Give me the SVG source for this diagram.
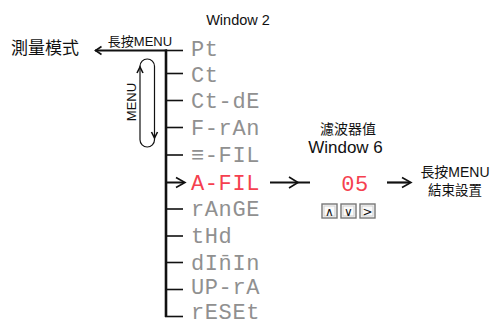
<svg xmlns="http://www.w3.org/2000/svg" width="491" height="325" viewBox="0 0 491 325">
<style>
.lbl{font-family:"Liberation Sans","Noto Sans CJK TC",sans-serif;fill:#111}
.seg{font-family:"Liberation Mono",monospace;font-size:22px;fill:#909090;letter-spacing:0.6px}
.red{fill:#f5404f}
.ln{stroke:#111;fill:none;stroke-linecap:butt}
.tick{stroke:#111;stroke-width:1.6;fill:none}
.hd{stroke:#111;fill:none;stroke-width:1.6;stroke-linejoin:miter}
.btn{fill:#fafafa;stroke:#777;stroke-width:1.4}
.btni{fill:none;stroke:#cfcfcf;stroke-width:1}
.sym{font-family:"DejaVu Sans",sans-serif;font-size:12px;fill:#111;text-anchor:middle}
</style>
<rect width="491" height="325" fill="#fff"/>

<g id="connectors">
  <line class="ln" x1="95" y1="50.5" x2="167" y2="50.5" stroke-width="2.2"/>
  <path class="hd" d="M101.5,46.5 L95.5,50.5 L101.5,54.5"/>
  <line class="ln" x1="166" y1="49.5" x2="166" y2="317" stroke-width="2.6"/>
  <line class="tick" x1="166" y1="50.5" x2="183" y2="50.5"/>
  <line class="tick" x1="166" y1="73.5" x2="183" y2="73.5"/>
  <line class="tick" x1="166" y1="100.5" x2="183" y2="100.5"/>
  <line class="tick" x1="166" y1="127.5" x2="183" y2="127.5"/>
  <line class="tick" x1="166" y1="155" x2="183" y2="155"/>
  <line class="tick" x1="166" y1="209" x2="183" y2="209"/>
  <line class="tick" x1="166" y1="236" x2="183" y2="236"/>
  <line class="tick" x1="166" y1="262.5" x2="183" y2="262.5"/>
  <line class="tick" x1="166" y1="289.5" x2="183" y2="289.5"/>
  <line class="tick" x1="165" y1="316.5" x2="183" y2="316.5"/>
  <line class="ln" x1="166" y1="182.5" x2="184" y2="182.5" stroke-width="2"/>
  <path class="hd" d="M176,177.5 L185,182.5 L176,187.5"/>
  <line class="ln" x1="270" y1="182.5" x2="310" y2="182.5" stroke-width="2.2"/>
  <path class="hd" d="M289,177 L298,182.5 L289,188" stroke-width="1.8"/>
  <line class="ln" x1="387" y1="182.5" x2="410" y2="182.5" stroke-width="2.2"/>
  <path class="hd" d="M402,177.5 L411,182.5 L402,187.5" stroke-width="1.8"/>
  <rect x="140" y="59" width="14.5" height="88" rx="7.2" ry="7.2" class="ln" stroke-width="1.2"/>
  <path class="hd" d="M137,73 L140,67 L143,73" stroke-width="1.2"/>
  <path class="hd" d="M151.5,132 L154.5,138 L157.5,132" stroke-width="1.2"/>
</g>

<g id="title-window2"><text class="lbl" x="238" y="25" font-size="14.5" text-anchor="middle">Window 2</text></g>
<g id="measure-mode"><text class="lbl" x="45" y="54" font-size="17" text-anchor="middle">測量模式</text></g>
<g id="long-press-top"><text class="lbl" x="140" y="46" font-size="13" text-anchor="middle">長按MENU</text></g>
<g id="menu-loop"><text class="lbl" transform="translate(136,102) rotate(-90)" font-size="13" text-anchor="middle">MENU</text></g>

<g id="n-pt"><text class="seg" x="191" y="55.5">Pt</text></g>
<g id="n-ct"><text class="seg" x="191" y="81.5">Ct</text></g>
<g id="n-ctde"><text class="seg" x="191" y="108">Ct-dE</text></g>
<g id="n-fran"><text class="seg" x="191" y="135">F-rAn</text></g>
<g id="n-efil"><text class="seg" x="191" y="162">≡-FIL</text></g>
<g id="n-afil"><text class="seg red" x="191" y="189.5">A-FIL</text></g>
<g id="n-range"><text class="seg" x="191" y="216">rAnGE</text></g>
<g id="n-thd"><text class="seg" x="191" y="243">tHd</text></g>
<g id="n-dimin"><text class="seg" x="191" y="269.5">dIn̄In</text></g>
<g id="n-upra"><text class="seg" x="191" y="294">UP-rA</text></g>
<g id="n-reset"><text class="seg" x="191" y="318.8" font-size="21.5">rESEt</text></g>

<g id="window6">
  <text class="lbl" x="348" y="134" font-size="14" text-anchor="middle">濾波器值</text>
  <text class="lbl" x="345.5" y="153" font-size="17" text-anchor="middle">Window 6</text>
  <text class="seg red" x="355" y="190.5" text-anchor="middle" font-size="25">05</text>
</g>

<g id="buttons">
  <rect class="btn" x="322" y="204" width="15" height="14"/>
  <rect class="btni" x="324" y="206" width="11" height="10"/>
  <text class="sym" x="329.5" y="215.5">∧</text>
  <rect class="btn" x="341" y="204" width="15" height="14"/>
  <rect class="btni" x="343" y="206" width="11" height="10"/>
  <text class="sym" x="348.5" y="215.5">∨</text>
  <rect class="btn" x="360" y="204" width="15" height="14"/>
  <rect class="btni" x="362" y="206" width="11" height="10"/>
  <text class="sym" x="367.5" y="215.5">&gt;</text>
</g>

<g id="end-setting">
  <text class="lbl" x="455" y="177" font-size="14" text-anchor="middle">長按MENU</text>
  <text class="lbl" x="455" y="195" font-size="13.5" text-anchor="middle">結束設置</text>
</g>
</svg>
